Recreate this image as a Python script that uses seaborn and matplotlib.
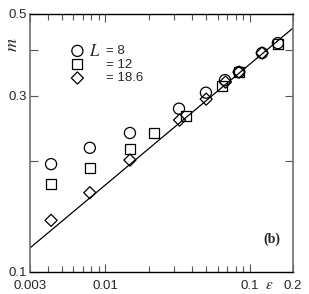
import numpy as np
import pandas as pd
import seaborn as sns
import matplotlib
matplotlib.use("Agg")
import matplotlib.pyplot as plt
from matplotlib.ticker import FixedLocator, NullFormatter

# data (epsilon, m)
eps_L8 = [0.0042, 0.0078, 0.0148, 0.0324, 0.0498, 0.0675, 0.0844, 0.122, 0.157]
m_L8 = [0.196, 0.217, 0.238, 0.277, 0.306, 0.331, 0.348, 0.392, 0.417]

eps_L12 = [0.0042, 0.0078, 0.0148, 0.0217, 0.0362, 0.0644, 0.0844, 0.157]
m_L12 = [0.173, 0.191, 0.215, 0.238, 0.265, 0.319, 0.348, 0.414]

eps_L186 = [0.0042, 0.0078, 0.0148, 0.0327, 0.050, 0.068, 0.0844, 0.122]
m_L186 = [0.138, 0.164, 0.201, 0.258, 0.294, 0.327, 0.348, 0.392]

# fitted power law line, endpoints
fit_eps = [0.003, 0.2]
fit_m = [0.1162, 0.458]

legend_labels = ["= 8", "= 12", "= 18.6"]

sns.set_style("ticks")
plt.rcParams['font.family'] = ['Liberation Sans', 'DejaVu Sans']
plt.rcParams['mathtext.fontset'] = 'stix'

fig = plt.figure(figsize=(3.09, 2.94), dpi=100)
ax = fig.add_axes([30 / 309, 22 / 294, 263 / 309, 258 / 294])

df_fit = pd.DataFrame({"eps": fit_eps, "m": fit_m})
sns.lineplot(data=df_fit, x="eps", y="m", color="black", lw=0.9, ax=ax)

series = [(eps_L8, m_L8, "o", 64), (eps_L12, m_L12, "s", 52), (eps_L186, m_L186, "D", 38)]
for (xs, ys, mk, sz), lab in zip(series, legend_labels):
    df = pd.DataFrame({"eps": xs, "m": ys})
    sns.scatterplot(data=df, x="eps", y="m", marker=mk, s=sz, fc="none",
                    ec="black", linewidth=0.9, ax=ax, label=lab, zorder=3)

ax.set_xscale("log")
ax.set_yscale("log")
ax.set_xlim(0.003, 0.2)
ax.set_ylim(0.1, 0.5)

ax.xaxis.set_major_locator(FixedLocator([0.003, 0.01, 0.1, 0.2]))
ax.set_xticklabels(["0.003", "0.01", "0.1", "0.2"])
ax.xaxis.set_minor_locator(FixedLocator([0.004, 0.005, 0.006, 0.007, 0.008, 0.009,
                                         0.02, 0.03, 0.04, 0.05, 0.06, 0.07, 0.08, 0.09]))
ax.xaxis.set_minor_formatter(NullFormatter())
ax.yaxis.set_major_locator(FixedLocator([0.1, 0.2, 0.3, 0.4, 0.5]))
ax.set_yticklabels(["0.1", "", "0.3", "", "0.5"])
ax.yaxis.set_minor_locator(FixedLocator([]))
ax.yaxis.set_minor_formatter(NullFormatter())

ax.tick_params(which="both", direction="in", top=True, right=True, labelsize=9.5,
               width=0.8, color="#555555")
ax.tick_params(axis="x", pad=6)
ax.tick_params(axis="y", pad=2)
ax.tick_params(which="major", length=6)
ax.tick_params(which="minor", length=4)

for side in ["left", "right"]:
    ax.spines[side].set_color("#707070")
    ax.spines[side].set_linewidth(1.2)
for side in ["top", "bottom"]:
    ax.spines[side].set_color("black")
    ax.spines[side].set_linewidth(1.0)

ax.set_xlabel(r"$\epsilon$", fontsize=11, labelpad=0)
ax.xaxis.set_label_coords(0.908, -0.025)
ax.set_ylabel(r"$m$", fontsize=13, rotation=90, labelpad=0)
ax.yaxis.set_label_coords(-0.035, 0.88)

leg = ax.legend(loc="upper left", bbox_to_anchor=(0.13, 0.905), frameon=False,
                fontsize=9.5, handlelength=1.0, handletextpad=1.7,
                labelspacing=0.1, borderpad=0)
ax.text(0.245, 0.857, r"$\mathbf{\mathit{L}}$", transform=ax.transAxes, fontsize=12,
        va="center", ha="center")

ax.text(0.92, 0.125, "(b)", transform=ax.transAxes, fontsize=10,
        fontweight="bold", family="Liberation Serif", ha="center", va="center")

fig.savefig("out.png", dpi=100)
